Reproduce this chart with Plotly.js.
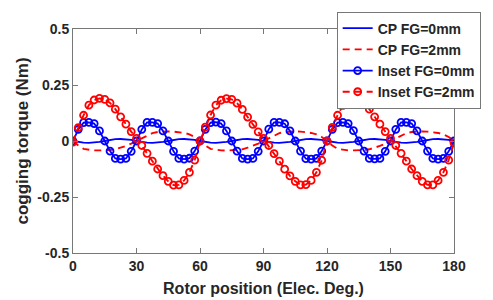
<!DOCTYPE html>
<html>
<head>
<meta charset="utf-8">
<script src="https://cdn.plot.ly/plotly-3.0.1.min.js"></script>
<style>html,body{margin:0;padding:0;background:#fff;}#chart{width:493px;height:300px;}</style>
</head>
<body>
<div id="chart"></div>
<script>
// Rotor position samples (Elec. Deg.)
var rotorPos = [0,2.5,5,7.5,10,12.5,15,17.5,20,22.5,25,27.5,30,32.5,35,37.5,40,42.5,45,47.5,50,52.5,55,57.5,
  60,62.5,65,67.5,70,72.5,75,77.5,80,82.5,85,87.5,90,92.5,95,97.5,100,102.5,105,107.5,110,112.5,115,117.5,
  120,122.5,125,127.5,130,132.5,135,137.5,140,142.5,145,147.5,150,152.5,155,157.5,160,162.5,165,167.5,170,172.5,175,177.5,180];

// CP FG=0mm (Nm)
var cpFG0 = [0,-0.004,-0.007,-0.008,-0.007,-0.004,0,0.005,0.008,0.009,0.008,0.005,
  0,-0.004,-0.007,-0.008,-0.007,-0.004,0,0.005,0.008,0.009,0.008,0.005,
  0,-0.004,-0.007,-0.008,-0.007,-0.004,0,0.005,0.008,0.009,0.008,0.005,
  0,-0.004,-0.007,-0.008,-0.007,-0.004,0,0.005,0.008,0.009,0.008,0.005,
  0,-0.004,-0.007,-0.008,-0.007,-0.004,0,0.005,0.008,0.009,0.008,0.005,
  0,-0.004,-0.007,-0.008,-0.007,-0.004,0,0.005,0.008,0.009,0.008,0.005,0];

// CP FG=2mm (Nm)
var cpFG2 = [0,-0.02,-0.035,-0.04,-0.042,-0.042,-0.042,-0.04,-0.037,-0.03,-0.022,-0.012,
  0,0.012,0.025,0.035,0.04,0.042,0.043,0.042,0.04,0.036,0.03,0.018,
  0,-0.02,-0.035,-0.04,-0.042,-0.043,-0.042,-0.04,-0.037,-0.03,-0.022,-0.012,
  0,0.012,0.025,0.035,0.04,0.042,0.043,0.042,0.04,0.036,0.03,0.018,
  0,-0.02,-0.035,-0.04,-0.042,-0.042,-0.042,-0.04,-0.037,-0.03,-0.022,-0.012,
  0,0.012,0.025,0.035,0.04,0.042,0.043,0.042,0.04,0.036,0.03,0.018,0];

// Inset FG=0mm (Nm)
var insetFG0 = [0,0.052,0.082,0.083,0.078,0.045,0,-0.045,-0.078,-0.081,-0.078,-0.046,
  0,0.052,0.083,0.083,0.078,0.045,0,-0.046,-0.078,-0.081,-0.077,-0.045,
  0,0.052,0.082,0.084,0.078,0.045,0,-0.045,-0.078,-0.081,-0.078,-0.046,
  0,0.053,0.083,0.083,0.077,0.045,0,-0.045,-0.079,-0.081,-0.078,-0.045,
  0,0.052,0.082,0.083,0.078,0.046,0,-0.045,-0.078,-0.080,-0.078,-0.046,
  0,0.052,0.083,0.083,0.078,0.045,0,-0.045,-0.078,-0.081,-0.078,-0.046,0];

// Inset FG=2mm (Nm)
var insetFG2 = [-0.005,0.06,0.115,0.16,0.183,0.19,0.186,0.17,0.142,0.108,0.075,0.042,
  0.012,-0.02,-0.055,-0.09,-0.125,-0.155,-0.18,-0.197,-0.196,-0.176,-0.14,-0.085,
  0,0.062,0.116,0.16,0.182,0.189,0.186,0.169,0.141,0.107,0.074,0.041,
  0.012,-0.02,-0.056,-0.09,-0.126,-0.156,-0.18,-0.196,-0.195,-0.176,-0.14,-0.086,
  0,0.061,0.115,0.159,0.183,0.19,0.186,0.17,0.142,0.108,0.075,0.042,
  0.012,-0.02,-0.055,-0.09,-0.125,-0.155,-0.18,-0.196,-0.196,-0.176,-0.14,-0.085,-0.008];

var xTicks = [0,30,60,90,120,150,180];
var yTicks = [-0.5,-0.25,0,0.25,0.5];
var yTickText = ['-0.5','-0.25','0','0.25','0.5'];

var BLUE = '#0000ff', RED = '#ff0000';
var traces = [
  {x: rotorPos, y: cpFG0, name: 'CP FG=0mm', mode: 'lines', line: {color: BLUE, width: 1.8}},
  {x: rotorPos, y: cpFG2, name: 'CP FG=2mm', mode: 'lines', line: {color: RED, width: 1.9, dash: '7px,5px'}},
  {x: rotorPos, y: insetFG0, name: 'Inset FG=0mm', mode: 'lines+markers', line: {color: BLUE, width: 1.8},
   marker: {symbol: 'circle-open', size: 7, color: BLUE, line: {width: 1.8, color: BLUE}}},
  {x: rotorPos, y: insetFG2, name: 'Inset FG=2mm', mode: 'lines+markers', line: {color: RED, width: 1.9, dash: '7px,5px'},
   marker: {symbol: 'circle-open', size: 7, color: RED, line: {width: 1.8, color: RED}}}
];

var FAM = 'Arial, "Liberation Sans", sans-serif';
var tickFont = {family: FAM, size: 14, color: '#262626', weight: 'bold'};

var layout = {
  width: 493, height: 300,
  margin: {l: 73, r: 27, t: 23, b: 47, pad: 0},
  paper_bgcolor: '#ffffff', plot_bgcolor: '#ffffff',
  showlegend: true,
  xaxis: {
    range: [0, 180], tickvals: xTicks, ticks: 'inside', ticklen: 5, tickcolor: '#777',
    showline: true, linecolor: '#777', linewidth: 1, mirror: 'ticks', showgrid: false, zeroline: false,
    tickfont: tickFont,
    title: {text: 'Rotor position (Elec. Deg.)', font: {family: FAM, size: 16, color: '#262626', weight: 'bold'}, standoff: 10}
  },
  yaxis: {
    range: [-0.5, 0.5], tickvals: yTicks, ticktext: yTickText, ticks: 'inside', ticklen: 5, tickcolor: '#777',
    showline: true, linecolor: '#777', linewidth: 1, mirror: 'ticks', showgrid: false, zeroline: false,
    tickfont: tickFont,
    title: {text: 'cogging torque (Nm)', font: {family: FAM, size: 17, color: '#262626', weight: 'bold'}, standoff: 4}
  },
  legend: {
    x: 1.07, y: 1.078, xanchor: 'right', yanchor: 'top',
    bgcolor: '#ffffff', bordercolor: '#777', borderwidth: 1,
    font: {family: FAM, size: 14, color: '#262626', weight: 'bold'},
    tracegroupgap: 0, itemwidth: 30
  }
};

Plotly.newPlot('chart', traces, layout, {displayModeBar: false, staticPlot: true});
</script>
</body>
</html>
